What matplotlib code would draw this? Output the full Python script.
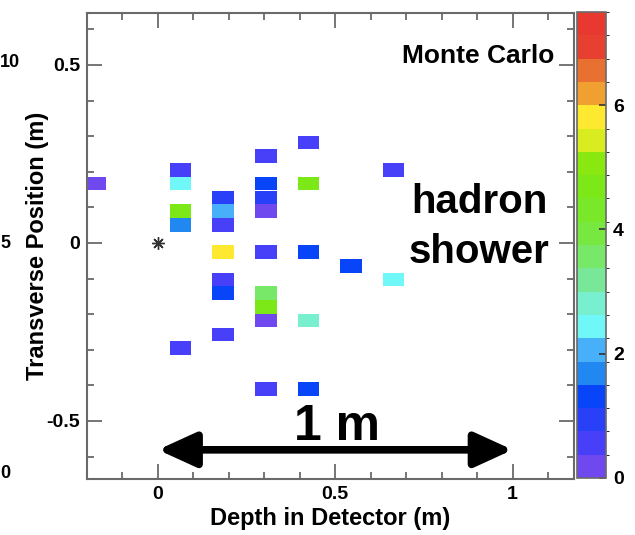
import numpy as np
import matplotlib
matplotlib.use("Agg")
import matplotlib.pyplot as plt
from matplotlib.colors import ListedColormap, BoundaryNorm
from matplotlib.cm import ScalarMappable
from matplotlib.ticker import MultipleLocator

plt.rcParams['font.family'] = ['Liberation Sans', 'DejaVu Sans']
plt.rcParams['font.weight'] = 'bold'

# hit cells: depth (m), transverse position (m), deposited energy
depth = [-0.176,
         0.064, 0.064, 0.064, 0.064, 0.064,
         0.184, 0.184, 0.184, 0.184, 0.184, 0.184, 0.184,
         0.304, 0.304, 0.304, 0.304, 0.304, 0.304, 0.304, 0.304, 0.304,
         0.424, 0.424, 0.424, 0.424, 0.424,
         0.544,
         0.664, 0.664]
transverse = [0.167,
              0.205, 0.167, 0.090, 0.051, -0.295,
              0.128, 0.090, 0.051, -0.026, -0.103, -0.141, -0.257,
              0.244, 0.167, 0.128, 0.090, -0.026, -0.141, -0.180, -0.218, -0.411,
              0.282, 0.167, -0.026, -0.218, -0.411,
              -0.064,
              0.205, -0.103]
energy = [0.2,
          0.56, 2.44, 4.7, 1.69, 0.56,
          0.94, 2.06, 0.56, 5.8, 0.7, 1.31, 0.56,
          0.56, 1.31, 0.94, 0.2, 0.56, 3.56, 4.7, 0.2, 0.56,
          0.56, 4.7, 1.31, 2.81, 1.31,
          1.31,
          0.56, 2.44]

cbar_ticks = [0, 2, 4, 6]

# ROOT-like 20 level palette
palette = ['#7048F0', '#4840F8', '#2840F8', '#0844F8', '#2088F0',
           '#48B0F8', '#70F8F8', '#78F0D0', '#78E898', '#78E868',
           '#78E840', '#78E828', '#7CE818', '#88E810', '#D8EC20',
           '#FFE830', '#F0A030', '#E87030', '#E84030', '#E83830']
cmap = ListedColormap(palette)
norm = BoundaryNorm(np.linspace(0, 7.5, 21), cmap.N)

cell_w = 0.061
cell_h = 0.0385
frame = '#6a6a6a'

fig = plt.figure(figsize=(6.35, 5.35), dpi=100)
ax = fig.add_axes([87/635, 56/535, 487/635, 466/535])
cax = fig.add_axes([577/635, 57/535, 29/635, 466/535])

ax.bar(depth, cell_h, bottom=np.array(transverse) - cell_h/2, width=cell_w,
       color=cmap(norm(energy)), linewidth=0)
ax.plot(0, 0, marker=(8, 2, 0), ms=9, mew=1, color='#333333')

ax.set_xlim(-0.2, 1.173)
ax.set_ylim(-0.663, 0.646)
ax.xaxis.set_major_locator(MultipleLocator(0.5))
ax.xaxis.set_minor_locator(MultipleLocator(0.1))
ax.yaxis.set_major_locator(MultipleLocator(0.5))
ax.yaxis.set_minor_locator(MultipleLocator(0.1))
ax.tick_params(which='both', direction='in', top=True, right=True, color=frame, width=1.3)
ax.tick_params(which='major', length=11, labelsize=14, pad=5)
ax.tick_params(which='minor', length=5)
for s in ax.spines.values():
    s.set_color(frame)
    s.set_linewidth(1.5)
ax.xaxis.set_major_formatter(matplotlib.ticker.FuncFormatter(lambda v, p: f'{v:g}'))
ax.yaxis.set_major_formatter(matplotlib.ticker.FuncFormatter(lambda v, p: f'{v:g}'))

ax.set_xlabel('Depth in Detector (m)', fontsize=17, fontweight='bold', labelpad=3)
ax.set_ylabel('Transverse Position (m)', fontsize=17, fontweight='bold', labelpad=-2)

ax.text(1.119, 0.506, 'Monte Carlo', fontsize=19, fontweight='bold', ha='right', va='baseline')
ax.text(0.906, 0.084, 'hadron', fontsize=29, fontweight='bold', ha='center', va='baseline')
ax.text(0.906, -0.056, 'shower', fontsize=29, fontweight='bold', ha='center', va='baseline')

# 1 m scale arrow
ax.annotate('', xy=(1.0, -0.581), xytext=(0.0, -0.581),
            arrowprops=dict(arrowstyle='<|-|>,head_length=2.3,head_width=1.05',
                            lw=5.5, color='black', mutation_scale=10,
                            shrinkA=0, shrinkB=0))
ax.text(0.504, -0.553, '1 m', fontsize=36, fontweight='bold', ha='center', va='baseline')

cb = fig.colorbar(ScalarMappable(norm=norm, cmap=cmap), cax=cax, ticks=cbar_ticks)
cb.outline.set_edgecolor(frame)
cb.outline.set_linewidth(1.2)
cax.tick_params(direction='in', length=5, width=1.2, color='#333333', labelsize=14, pad=5)
cax.set_yticklabels([str(t) for t in cbar_ticks])

# leftover labels of the neighbouring panel
fig.text(20/635, 1 - 62/535, '10', fontsize=13, fontweight='bold', ha='right', va='center')
fig.text(10/635, 1 - 243/535, '5', fontsize=13, fontweight='bold', ha='right', va='center')
fig.text(10/635, 1 - 474/535, '0', fontsize=13, fontweight='bold', ha='right', va='center')

fig.savefig('out.png', dpi=100)
